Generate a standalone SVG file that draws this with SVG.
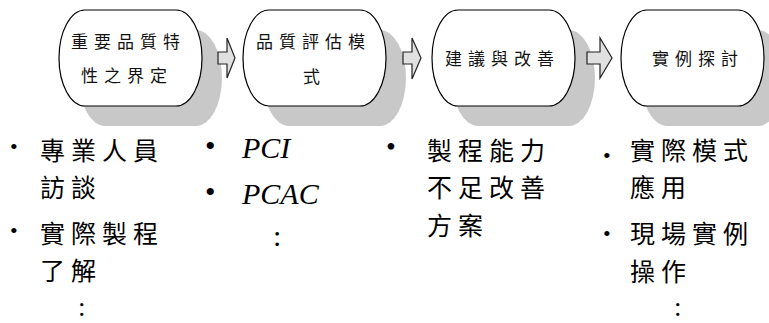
<svg xmlns="http://www.w3.org/2000/svg" width="769" height="323" viewBox="0 0 769 323">
<style>
.shadow{fill:#c8c8c8;stroke:none}
.pill{fill:#ffffff;stroke:#000000;stroke-width:1.2}
.arrow{fill:#e0e0e0;stroke:#222222;stroke-width:1.2;stroke-linejoin:miter}
.nt{font-family:"Noto Sans CJK TC","Noto Sans CJK SC",sans-serif;font-size:17px;letter-spacing:6px;fill:#111111}
.bt{font-family:"Noto Sans CJK TC","Noto Sans CJK SC",sans-serif;font-size:25px;letter-spacing:6px;fill:#000000}
.it{font-family:"Liberation Serif",serif;font-style:italic;font-size:30px;fill:#000000}
.bul{font-family:"Liberation Serif",serif;fill:#000000}
.col{font-family:"Liberation Serif",serif;font-size:30px;fill:#000000}
.colb{font-family:"Liberation Serif",serif;font-size:27px;fill:#000000}
</style>
<rect width="769" height="323" fill="#ffffff"/>
<g id="shadows">
<rect class="shadow" x="79" y="30" width="143" height="96" rx="26" ry="48"/>
<rect class="shadow" x="263" y="30" width="143" height="96" rx="26" ry="48"/>
<rect class="shadow" x="452" y="30" width="143" height="96" rx="26" ry="48"/>
<rect class="shadow" x="641" y="30" width="143" height="96" rx="26" ry="48"/>
</g>
<g id="node1">
<rect class="pill" x="59" y="10" width="143" height="96" rx="26" ry="48"/>
<text class="nt" x="71" y="48">重要品質特</text>
<text class="nt" x="81" y="82">性之界定</text>
</g>
<g id="node2">
<rect class="pill" x="243" y="10" width="143" height="96" rx="26" ry="48"/>
<text class="nt" x="256" y="48">品質評估模</text>
<text class="nt" x="303" y="83">式</text>
</g>
<g id="node3">
<rect class="pill" x="432" y="10" width="143" height="96" rx="26" ry="48"/>
<text class="nt" x="445" y="65">建議與改善</text>
</g>
<g id="node4">
<rect class="pill" x="621" y="10" width="143" height="96" rx="26" ry="48"/>
<text class="nt" x="652" y="65">實例探討</text>
</g>
<g id="connectors">
<polygon class="arrow" points="218,52 227,52 227,38 235,58 227,78 227,64 218,64"/>
<polygon class="arrow" points="403,52 412,52 412,38 421,58 412,79 412,64 403,64"/>
<polygon class="arrow" points="587,52 600,52 600,38 612,58 600,78 600,64 587,64"/>
</g>
<g id="list1">
<text class="bul" x="10" y="154" font-size="22">•</text>
<text class="bt" x="40" y="160">專業人員</text>
<text class="bt" x="40" y="197">訪談</text>
<text class="bul" x="10" y="238" font-size="22">•</text>
<text class="bt" x="40" y="243">實際製程</text>
<text class="bt" x="40" y="280">了解</text>
<text class="colb" x="78" y="316">:</text>
</g>
<g id="list2">
<text class="bul" x="205" y="156" font-size="30">•</text>
<text class="it" x="242" y="158">PCI</text>
<text class="bul" x="205" y="202" font-size="30">•</text>
<text class="it" x="242" y="204">PCAC</text>
<text class="col" x="273" y="246">:</text>
</g>
<g id="list3">
<text class="bul" x="386" y="156" font-size="28">•</text>
<text class="bt" x="427" y="160">製程能力</text>
<text class="bt" x="427" y="197">不足改善</text>
<text class="bt" x="427" y="235">方案</text>
</g>
<g id="list4">
<text class="bul" x="603" y="163" font-size="22">•</text>
<text class="bt" x="630" y="160">實際模式</text>
<text class="bt" x="630" y="197">應用</text>
<text class="bul" x="603" y="241" font-size="22">•</text>
<text class="bt" x="630" y="243">現場實例</text>
<text class="bt" x="630" y="281">操作</text>
<text class="colb" x="674" y="316">:</text>
</g>
</svg>
